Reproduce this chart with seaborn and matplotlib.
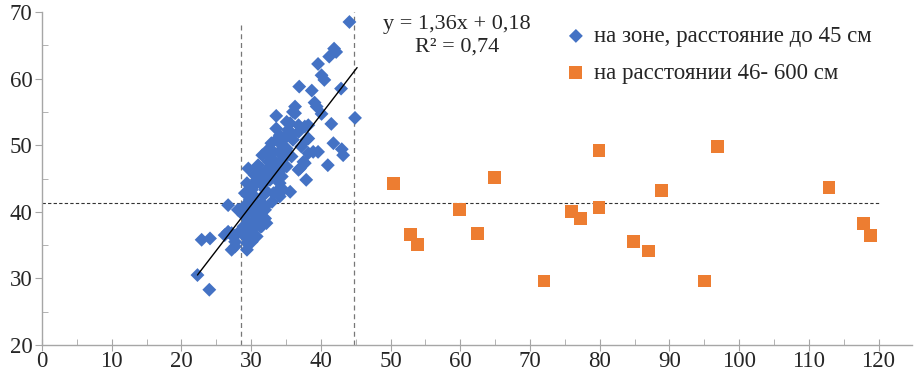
import numpy as np
import pandas as pd
import seaborn as sns
import matplotlib.pyplot as plt
from matplotlib.ticker import MultipleLocator

# blue: "на зоне" points (x, y)
zone_x = [44.1, 41.9, 42.2, 41.2, 39.6, 40.1, 40.5, 36.9, 38.7, 42.9,
          44.9, 36.3, 36.0, 39.1, 39.4, 40.1, 41.5, 33.6, 35.1, 36.8,
          37.7, 36.3, 35.6, 38.2, 34.1, 34.6, 35.6, 36.8, 33.6, 35.1,
          41.8, 38.2, 43.0, 43.2, 37.9, 38.9, 39.6, 38.2, 37.2, 41.0,
          37.0, 37.5, 37.7, 36.8, 37.9, 35.8, 34.8, 34.6, 35.1, 34.1,
          35.1, 36.0, 32.9, 33.2, 31.6, 29.6, 32.2, 31.3, 30.8, 32.7,
          33.6, 34.1, 34.4, 34.6, 35.6, 33.2, 33.9, 34.1, 32.0, 31.3,
          30.5, 30.1, 29.4, 29.1, 29.8, 29.6, 30.5, 32.0, 32.4, 31.5,
          29.4, 30.8, 26.7, 28.4, 29.1, 29.6, 30.1, 30.3, 29.6, 28.9,
          29.4, 30.5, 31.5, 32.0, 32.2, 31.3, 28.1, 28.9, 30.1, 31.0,
          32.0, 31.5, 30.5, 29.8, 30.8, 30.1, 29.1, 28.1, 27.2, 26.2,
          27.7, 27.2, 29.4, 22.9, 24.1, 26.7, 27.4, 27.7, 22.3, 24.0,
          31.0, 32.5, 33.5, 30.5, 31.8, 33.0, 30.8, 29.0, 33.0, 34.0,
          32.3, 33.8, 35.3, 31.2, 32.8, 34.5, 30.2, 31.6, 33.5, 35.8]
zone_y = [68.5, 64.5, 64.0, 63.3, 62.2, 60.5, 59.8, 58.8, 58.2, 58.5,
          54.1, 55.8, 55.0, 56.4, 55.8, 54.7, 53.2, 54.4, 53.5, 53.0,
          52.8, 54.8, 53.3, 53.0, 51.5, 50.8, 51.3, 52.0, 52.5, 51.5,
          50.3, 51.0, 49.4, 48.5, 50.8, 49.0, 49.0, 48.8, 49.8, 47.0,
          46.5, 47.5, 47.3, 46.3, 44.8, 48.3, 46.8, 48.3, 46.8, 50.3,
          49.5, 50.8, 50.3, 49.0, 48.5, 46.5, 46.3, 45.3, 44.3, 44.8,
          45.3, 44.3, 45.3, 43.3, 43.0, 42.8, 43.3, 42.3, 40.8, 40.0,
          41.3, 43.3, 44.3, 42.8, 41.8, 42.8, 42.3, 43.3, 45.3, 41.3,
          41.0, 44.8, 41.0, 40.3, 39.3, 38.3, 37.3, 36.3, 36.5, 37.8,
          35.3, 38.8, 39.3, 40.3, 38.3, 37.8, 40.3, 39.5, 40.0, 40.8,
          39.0, 37.8, 38.3, 37.0, 36.3, 35.5, 36.3, 36.8, 36.8, 36.5,
          35.5, 34.3, 34.3, 35.8, 36.0, 37.0, 36.3, 34.8, 30.5, 28.3,
          47.0, 47.5, 47.0, 45.5, 42.5, 41.5, 39.0, 40.8, 48.0, 49.0,
          49.2, 51.0, 52.3, 46.0, 45.8, 47.8, 43.8, 44.0, 46.3, 51.8]

# orange: "на расстоянии 46-600" points
far_x = [50.4, 52.9, 53.9, 59.9, 62.5, 64.9, 72.0, 75.9, 77.3, 79.9,
         79.9, 84.9, 87.0, 88.9, 95.0, 96.9, 112.9, 117.9, 118.8]
far_y = [44.2, 36.6, 35.1, 40.4, 36.7, 45.1, 29.6, 40.0, 39.0, 49.2,
         40.6, 35.5, 34.1, 43.2, 29.6, 49.8, 43.7, 38.2, 36.5]

trend_slope = 1.36
trend_intercept = 0.18
r_squared = 0.74

vlines_x = [28.6, 44.7]
vlines_top = [68.0, 70.0]
hline_y = 41.3

zone_label = "на зоне, расстояние до 45 см"
far_label = "на расстоянии 46- 600 см"

df_zone = pd.DataFrame({"x": zone_x, "y": zone_y})
df_far = pd.DataFrame({"x": far_x, "y": far_y})

sns.set_style("ticks")
plt.rcParams['font.family'] = ['Liberation Serif', 'DejaVu Serif']

fig = plt.figure(figsize=(9.14, 3.80), dpi=100)
ax = fig.add_axes([42 / 914, 1 - 345 / 380, 870 / 914, 333 / 380])

# reference lines
ax.axhline(hline_y, xmin=0, xmax=120 / 124.8, color="#333333", lw=0.8,
           ls=(0, (3, 2)), zorder=1)
for vx, vt in zip(vlines_x, vlines_top):
    ax.plot([vx, vx], [20, vt], color="#777777", lw=0.9, ls=(0, (4, 3)), zorder=1)

sns.scatterplot(data=df_zone, x="x", y="y", marker="D", color="#4472C4",
                s=50, edgecolor="none", label=zone_label, ax=ax, zorder=3)
sns.scatterplot(data=df_far, x="x", y="y", marker="s", color="#ED7D31",
                s=85, edgecolor="none", label=far_label, ax=ax, zorder=3)

# linear trend for the zone points
tx = np.array([min(zone_x), 45.2])
ax.plot(tx, trend_slope * tx + trend_intercept, color="black", lw=1.0, zorder=4)

eq = f"y = {trend_slope:.2f}x + {trend_intercept:.2f}\nR² = {r_squared:.2f}".replace(".", ",")
ax.text(59.5, 0.99, eq, transform=ax.get_xaxis_transform(), ha="center", va="top",
        fontsize=16, linespacing=1.25)

ax.set_xlim(0, 124.8)
ax.set_ylim(20, 70)
ax.xaxis.set_major_locator(MultipleLocator(10))
ax.xaxis.set_minor_locator(MultipleLocator(5))
ax.yaxis.set_major_locator(MultipleLocator(10))
ax.yaxis.set_minor_locator(MultipleLocator(5))
ax.set_xlabel("")
ax.set_ylabel("")

sns.despine(ax=ax)
for sp in ["left", "bottom"]:
    ax.spines[sp].set_color("#A6A6A6")
    ax.spines[sp].set_linewidth(1.0)
ax.tick_params(axis="x", which="major", direction="inout", length=9, color="#A6A6A6",
               labelsize=16.5, pad=0)
ax.tick_params(axis="x", which="minor", direction="in", length=4, color="#A6A6A6")
ax.tick_params(axis="y", which="major", direction="out", length=5, color="#A6A6A6",
               labelsize=16.5, pad=2)
ax.tick_params(axis="y", which="minor", direction="in", length=4, color="#A6A6A6")

ax.legend(loc="upper left", bbox_to_anchor=(0.605, 0.956), bbox_transform=fig.transFigure,
          frameon=False, fontsize=16.5, handletextpad=0.2, labelspacing=0.68,
          handlelength=1.2, borderaxespad=0)

fig.savefig("out.png", dpi=100)
